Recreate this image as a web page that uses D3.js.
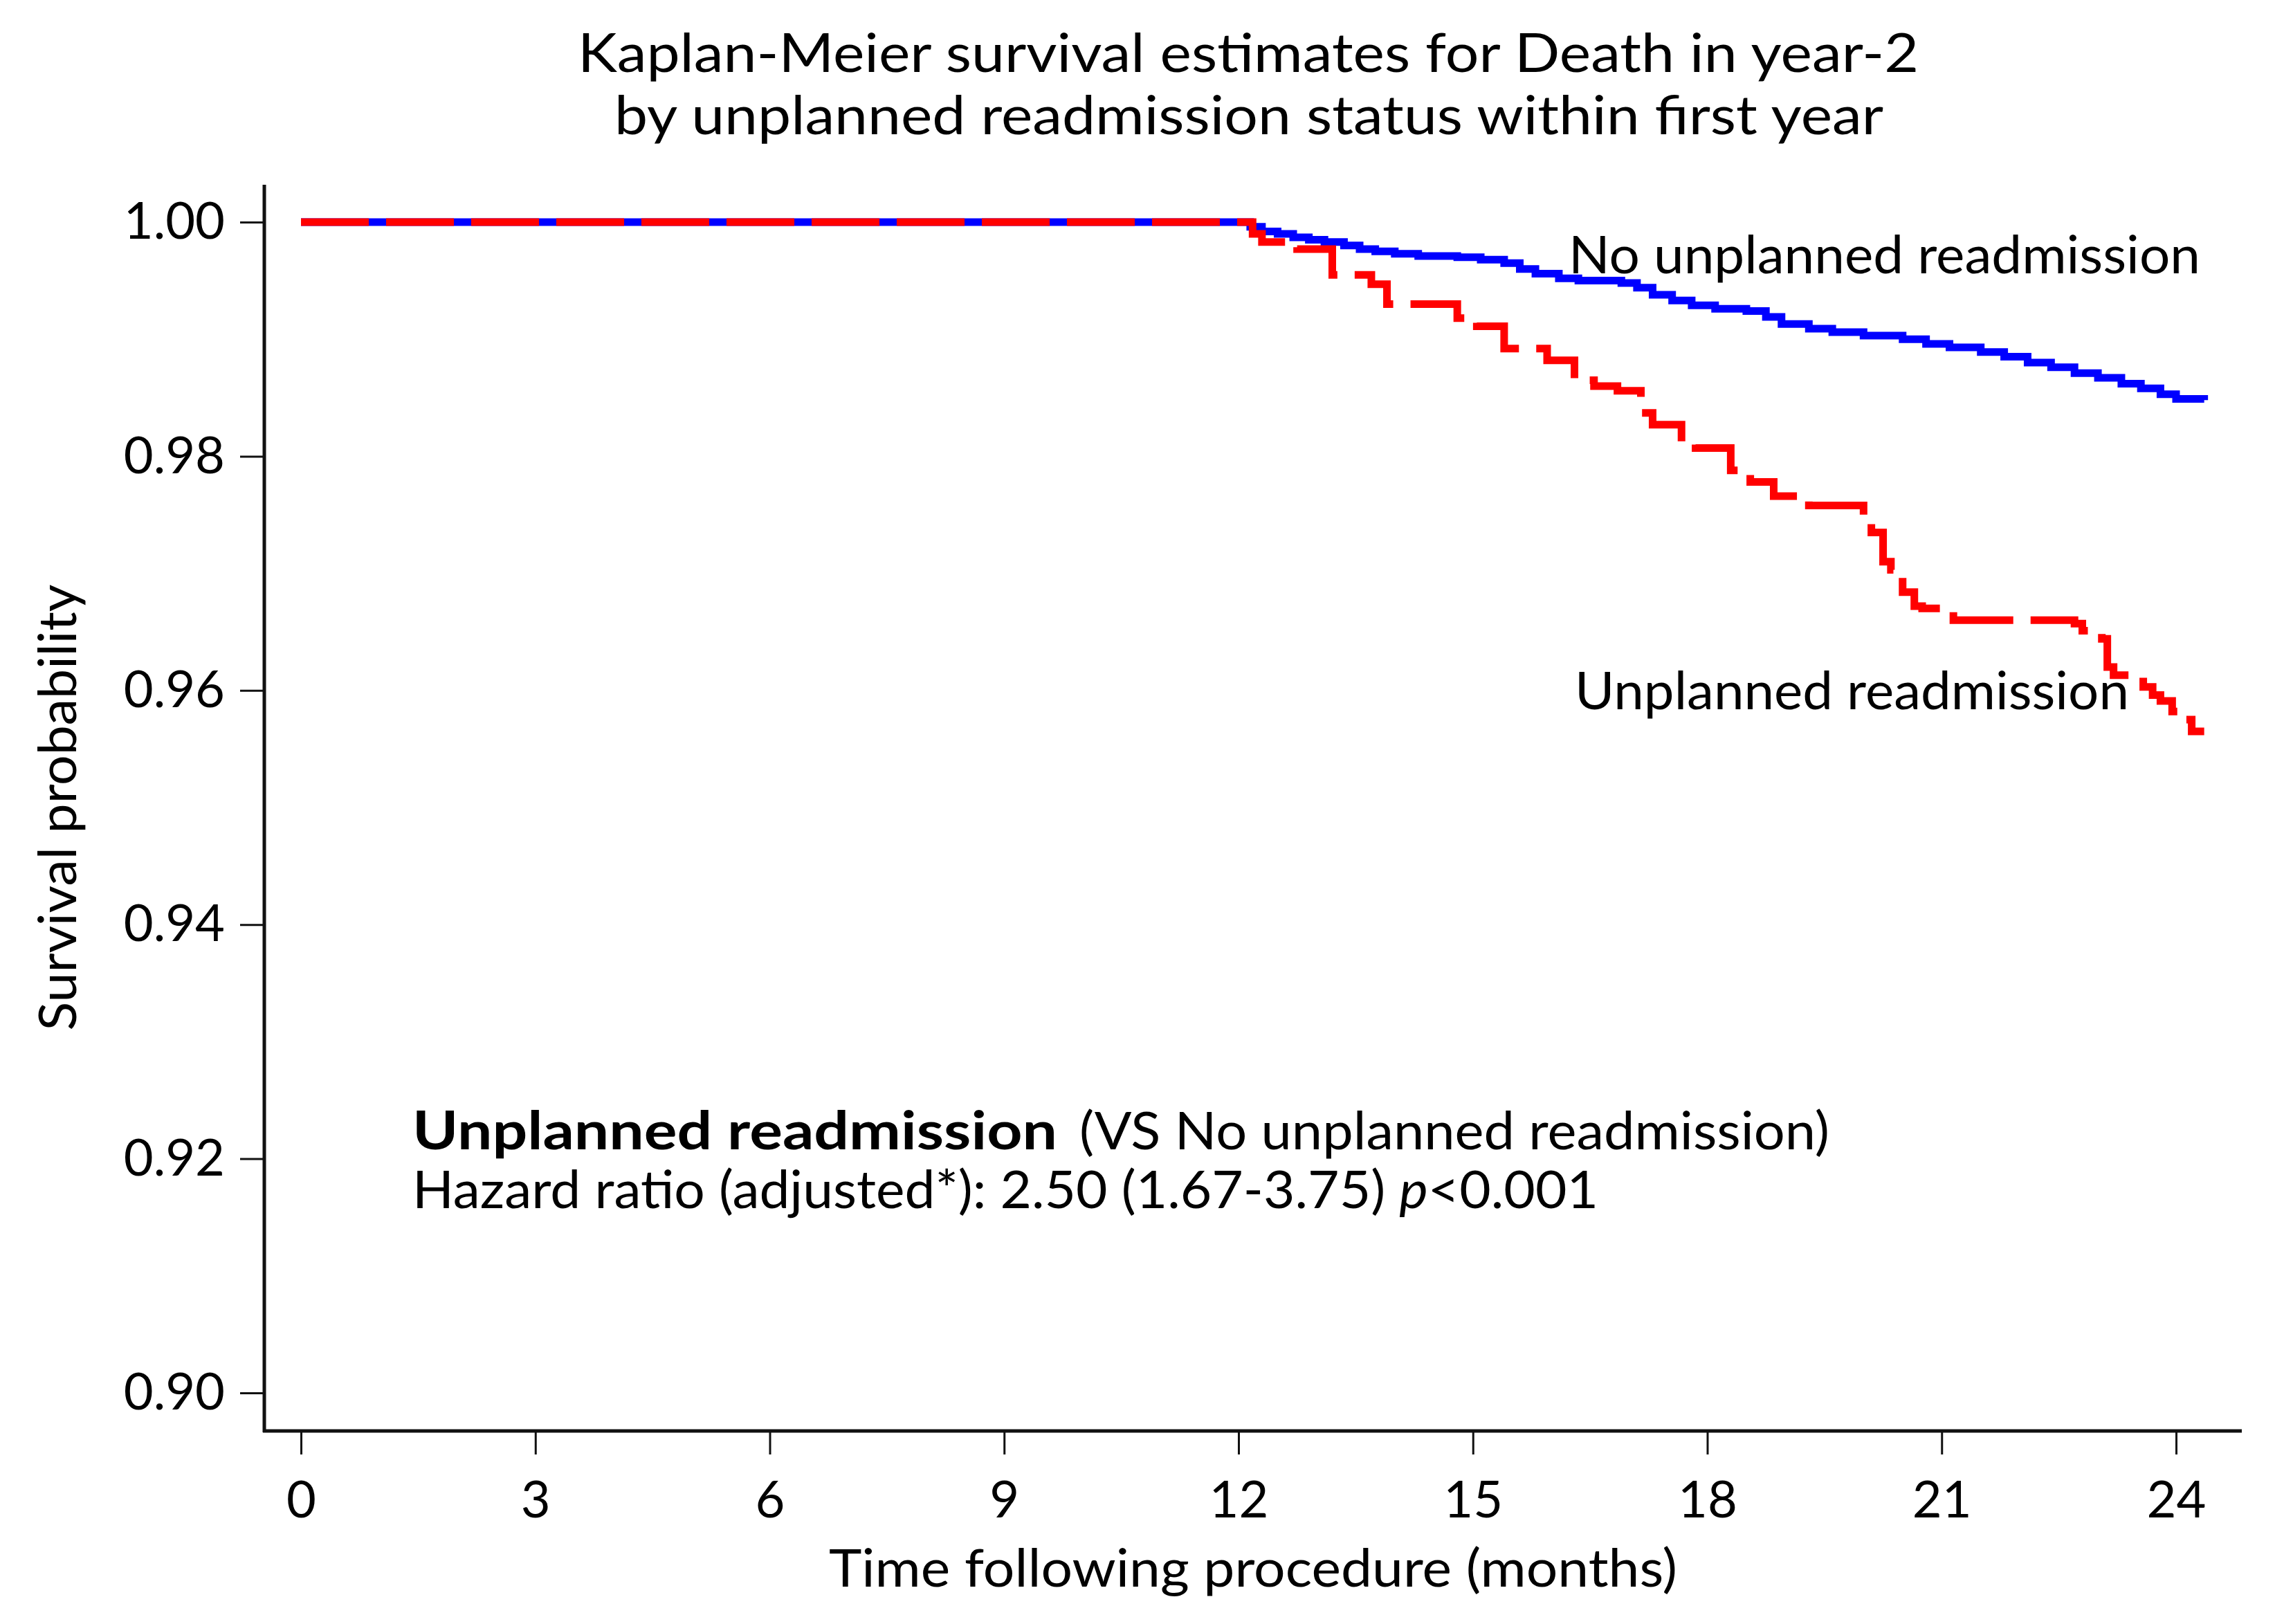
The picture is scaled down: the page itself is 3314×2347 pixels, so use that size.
<!DOCTYPE html>
<html>
<head>
<meta charset="utf-8">
<script src="https://cdn.jsdelivr.net/npm/d3@7"></script>
<style>
  body { margin: 0; background: #fff; }
  text { font-family: Lato, "Open Sans", sans-serif; fill: #000; }
</style>
</head>
<body>
<svg id="chart" width="3314" height="2347"></svg>
<script>
// survival steps: [month, survival]
const noReadmTime = [0, 12.15, 12.3, 12.5, 12.7, 12.9, 13.1, 13.35, 13.55, 13.75, 14.0, 14.3, 14.8, 15.1, 15.4, 15.6, 15.8, 16.1, 16.35, 16.9, 17.1, 17.3, 17.55, 17.8, 18.1, 18.5, 18.75, 18.95, 19.3, 19.6, 20.0, 20.5, 20.8, 21.1, 21.5, 21.8, 22.1, 22.4, 22.7, 23.0, 23.3, 23.55, 23.8, 24.0, 24.36];
const noReadmSurv = [1, 0.9996, 0.9992, 0.9990, 0.9987, 0.9985, 0.9983, 0.9980, 0.9977, 0.9975, 0.9973, 0.9971, 0.9970, 0.9968, 0.9965, 0.9960, 0.9956, 0.9952, 0.9950, 0.9948, 0.9944, 0.9938, 0.9933, 0.9929, 0.9926, 0.9924, 0.9919, 0.9913, 0.9909, 0.9906, 0.9903, 0.9900, 0.9896, 0.9893, 0.9889, 0.9885, 0.9880, 0.9876, 0.9871, 0.9867, 0.9862, 0.9858, 0.9853, 0.9849, 0.9848];

const readmTime = [0, 12.18, 12.3, 12.75, 13.2, 13.7, 13.9, 14.8, 15.05, 15.4, 15.95, 16.3, 16.55, 16.85, 17.15, 17.3, 17.67, 17.85, 18.3, 18.55, 18.85, 19.3, 20.0, 20.1, 20.25, 20.35, 20.5, 20.65, 20.75, 21.15, 22.7, 22.8, 23.05, 23.12, 23.2, 23.58, 23.7, 23.8, 23.95, 24.1, 24.2, 24.36];
const readmSurv = [1, 0.9990, 0.9983, 0.9977, 0.9955, 0.9947, 0.9930, 0.9918, 0.9911, 0.9892, 0.9882, 0.9865, 0.9860, 0.9856, 0.9837, 0.9827, 0.9812, 0.9807, 0.9788, 0.9778, 0.9766, 0.9758, 0.9745, 0.9735, 0.9710, 0.9703, 0.9684, 0.9672, 0.9670, 0.9660, 0.9657, 0.9651, 0.9644, 0.9620, 0.9613, 0.9603, 0.9596, 0.9591, 0.9582, 0.9575, 0.9565, 0.9565];

const xTicks = [0, 3, 6, 9, 12, 15, 18, 21, 24];
const yTicks = [0.90, 0.92, 0.94, 0.96, 0.98, 1.00];

const svg = d3.select("#chart");

var x = d3.scaleLinear().domain([0, 24]).range([435, 3145]);
var y = d3.scaleLinear().domain([0.90, 1.00]).range([2013, 321]);

// axes (stata style, detached corner)
var yAxis = d3.axisLeft(y).tickValues(yTicks).tickSize(35).tickPadding(22)
  .tickFormat(d3.format(".2f"));
var xAxis = d3.axisBottom(x).tickValues(xTicks).tickSize(34).tickPadding(38)
  .tickFormat(d3.format("d"));

var gy = svg.append("g").attr("transform", "translate(382,0)").call(yAxis);
var gx = svg.append("g").attr("transform", "translate(0,2068)").call(xAxis);

gy.select(".domain").remove();
gx.select(".domain").remove();
svg.append("line").attr("x1", 382).attr("x2", 382).attr("y1", 267).attr("y2", 2070)
  .attr("stroke", "#111").attr("stroke-width", 5);
svg.append("line").attr("x1", 380).attr("x2", 3240).attr("y1", 2068).attr("y2", 2068)
  .attr("stroke", "#111").attr("stroke-width", 5);

[gx, gy].forEach(function(g) {
  g.selectAll(".tick line").attr("stroke", "#111").attr("stroke-width", 3);
  g.selectAll(".tick text").style("font-size", "74px").style("font-family", "Lato");
});

// curves
var line = d3.line().curve(d3.curveStepAfter)
  .x(d => x(d[0])).y(d => y(d[1]));

svg.append("path")
  .datum(d3.zip(noReadmTime, noReadmSurv))
  .attr("d", line)
  .attr("fill", "none").attr("stroke", "#0000ff").attr("stroke-width", 11);

svg.append("path")
  .datum(d3.zip(readmTime, readmSurv))
  .attr("d", line)
  .attr("fill", "none").attr("stroke", "#ff0000").attr("stroke-width", 11)
  .attr("stroke-dasharray", "98,25");

// titles
svg.append("text").attr("x", 1804).attr("y", 104).attr("text-anchor", "middle")
  .style("font-size", "78px")
  .attr("textLength", 1938).attr("lengthAdjust", "spacingAndGlyphs")
  .text("Kaplan-Meier survival estimates for Death in year-2");
svg.append("text").attr("x", 1805).attr("y", 194).attr("text-anchor", "middle")
  .style("font-size", "78px")
  .attr("textLength", 1834).attr("lengthAdjust", "spacingAndGlyphs")
  .text("by unplanned readmission status within first year");

svg.append("text").attr("x", 1811).attr("y", 2293).attr("text-anchor", "middle")
  .style("font-size", "76px")
  .attr("textLength", 1226).attr("lengthAdjust", "spacingAndGlyphs")
  .text("Time following procedure (months)");

svg.append("text").attr("transform", "translate(110,1167) rotate(-90)")
  .attr("text-anchor", "middle")
  .style("font-size", "76px")
  .attr("textLength", 645).attr("lengthAdjust", "spacingAndGlyphs")
  .text("Survival probability");

// curve labels
svg.append("text").attr("x", 2267).attr("y", 395)
  .style("font-size", "76px")
  .attr("textLength", 913).attr("lengthAdjust", "spacingAndGlyphs")
  .text("No unplanned readmission");
svg.append("text").attr("x", 2276).attr("y", 1025)
  .style("font-size", "76px")
  .attr("textLength", 801).attr("lengthAdjust", "spacingAndGlyphs")
  .text("Unplanned readmission");

// hazard ratio note
svg.append("text").attr("x", 596).attr("y", 1661)
  .style("font-size", "76px").style("font-weight", "bold")
  .attr("textLength", 932).attr("lengthAdjust", "spacingAndGlyphs")
  .text("Unplanned readmission");
svg.append("text").attr("x", 1560).attr("y", 1661)
  .style("font-size", "76px")
  .attr("textLength", 1084).attr("lengthAdjust", "spacingAndGlyphs")
  .text("(VS No unplanned readmission)");

var hr = svg.append("text").attr("x", 596).attr("y", 1746)
  .style("font-size", "76px")
  .attr("textLength", 1714).attr("lengthAdjust", "spacingAndGlyphs");
hr.append("tspan").text("Hazard ratio (adjusted*): 2.50 (1.67-3.75) ");
hr.append("tspan").style("font-style", "italic").text("p");
hr.append("tspan").text("<0.001");
</script>
</body>
</html>
